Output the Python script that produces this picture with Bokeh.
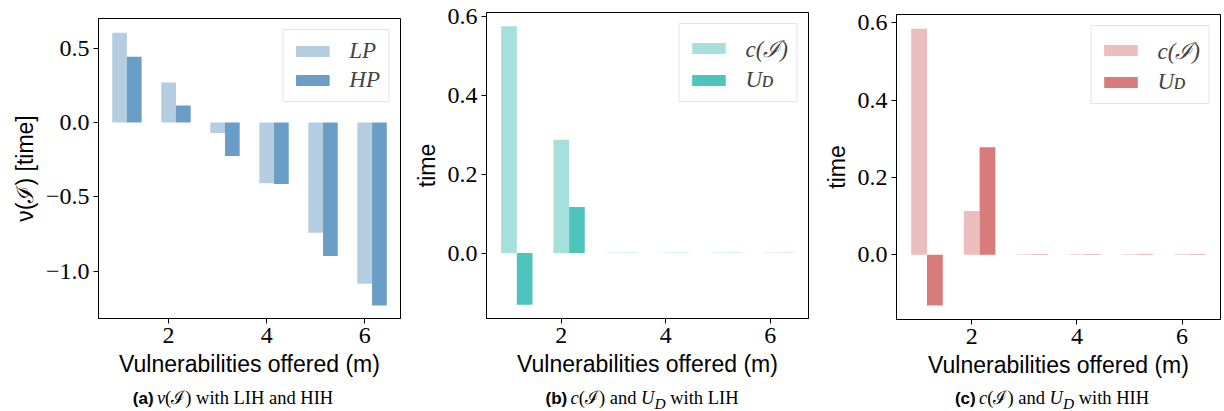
from bokeh.plotting import figure
from bokeh.layouts import row, column
from bokeh.models import ColumnDataSource, FixedTicker, Legend, LegendItem, Div, Range1d
from bokeh.transform import dodge
from bokeh.embed import file_html
from bokeh.resources import INLINE

# ---------------- data ----------------
m = [1, 2, 3, 4, 5, 6]
nu_lp = [0.603, 0.268, -0.071, -0.408, -0.741, -1.085]
nu_hp = [0.442, 0.114, -0.225, -0.413, -0.897, -1.230]
lih_c = [0.575, 0.287, 0.001, 0.001, 0.001, 0.001]
lih_ud = [-0.131, 0.117, 0.001, 0.001, 0.001, 0.001]
hih_c = [0.585, 0.113, 0.001, 0.001, 0.001, 0.001]
hih_ud = [-0.132, 0.278, 0.001, 0.001, 0.001, 0.001]

x_ticks = [2, 4, 6]
a_y_ticks = [0.5, 0.0, -0.5, -1.0]
a_y_labels = ["0.5", "0.0", "\u22120.5", "\u22121.0"]
bc_y_ticks = [0.0, 0.2, 0.4, 0.6]
bc_y_labels = ["0.0", "0.2", "0.4", "0.6"]

SERIF = "Liberation Serif"
SANS = "Liberation Sans"
FIG_H = 388


def panel(width, bl, br, bt, fh, ylim, yticks, ylabels, ylabel, s1, s2, col1, col2, lab1, lab2):
    p = figure(width=width, height=FIG_H, x_range=Range1d(0.57, 6.73),
               y_range=Range1d(*ylim), output_backend="svg", toolbar_location=None,
               min_border=0, min_border_left=bl, min_border_right=br,
               min_border_top=bt, min_border_bottom=FIG_H - bt - fh)
    src = ColumnDataSource(dict(m=m, a=s1, b=s2))
    r1 = p.vbar(x="m", top="a", bottom=0, width=0.3, source=src,
                fill_color=col1, line_color=None)
    r2 = p.vbar(x=dodge("m", 0.3), top="b", bottom=0, width=0.3, source=src,
                fill_color=col2, line_color=None)
    p.xgrid.visible = False
    p.ygrid.visible = False
    p.outline_line_color = "black"
    p.outline_line_width = 1
    p.outline_line_alpha = 1
    for ax in (p.xaxis[0], p.yaxis[0]):
        ax.axis_line_color = "black"
        ax.major_tick_line_color = "black"
        ax.major_tick_out = 5
        ax.major_tick_in = 0
        ax.minor_tick_line_color = None
        ax.major_label_text_font = SERIF
        ax.major_label_text_font_size = "24px"
        ax.major_label_text_color = "black"
        ax.axis_label_text_font = SANS
        ax.axis_label_text_font_size = "23px"
        ax.axis_label_text_font_style = "normal"
        ax.axis_label_text_color = "black"
        ax.major_label_standoff = 4
        ax.axis_label_standoff = 5
    p.xaxis[0].ticker = FixedTicker(ticks=x_ticks)
    p.yaxis[0].ticker = FixedTicker(ticks=yticks)
    p.yaxis[0].major_label_overrides = {t: l for t, l in zip(yticks, ylabels)}
    p.xaxis[0].axis_label = "Vulnerabilities offered (m)"
    p.yaxis[0].axis_label = ylabel
    leg = Legend(items=[LegendItem(label=lab1, renderers=[r1]),
                        LegendItem(label=lab2, renderers=[r2])],
                 location="top_right", margin=11, padding=8, spacing=3,
                 glyph_width=42, glyph_height=14, label_standoff=16,
                 label_text_font=SERIF, label_text_font_style="italic",
                 label_text_font_size="23px",
                 border_line_color="#cccccc", border_line_width=1,
                 background_fill_alpha=0.8)
    p.add_layout(leg, "center")
    return p


def caption(width, pad, letter, rest):
    html = (f'<div style="box-sizing:border-box;width:{width}px;padding-left:{pad}px;text-align:center;'
            f'line-height:20px;white-space:nowrap;">'
            f'<span style="font-family:{SANS};font-weight:bold;font-size:17px;">({letter})</span> '
            f'<span style="font-family:{SERIF};font-size:18.5px;">{rest}</span></div>')
    return Div(text=html, width=width, height=20, margin=0)


pa = panel(410, 98, 10, 18, 300, (-1.318, 0.699), a_y_ticks, a_y_labels,
           "\u03bd(\u2110) [time]", nu_lp, nu_hp, "#b5cde1", "#6b9ec6", "LP", "HP")
pb = panel(410, 76, 12, 12, 306, (-0.166, 0.610), bc_y_ticks, bc_y_labels,
           "time", lih_c, lih_ud, "#a6e0dc", "#4fc3bd", "c(\u2110)", "U\u1d05")
pc = panel(402, 75, 2, 14, 305, (-0.168, 0.622), bc_y_ticks, bc_y_labels,
           "time", hih_c, hih_ud, "#ebbdbd", "#d87b7b", "c(\u2110)", "U\u1d05")

ca = caption(410, 56, "a", "<i>\u03bd</i>(\u2110) with LIH and HIH")
cb = caption(410, 54, "b", "<i>c</i>(\u2110) and <i>U</i><sub><i>D</i></sub> with LIH")
cc = caption(402, 62, "c", "<i>c</i>(\u2110) and <i>U</i><sub><i>D</i></sub> with HIH")

layout = row(column(pa, ca, spacing=0), column(pb, cb, spacing=0),
             column(pc, cc, spacing=0), spacing=0)

open("out.html", "w").write(file_html(layout, INLINE))
